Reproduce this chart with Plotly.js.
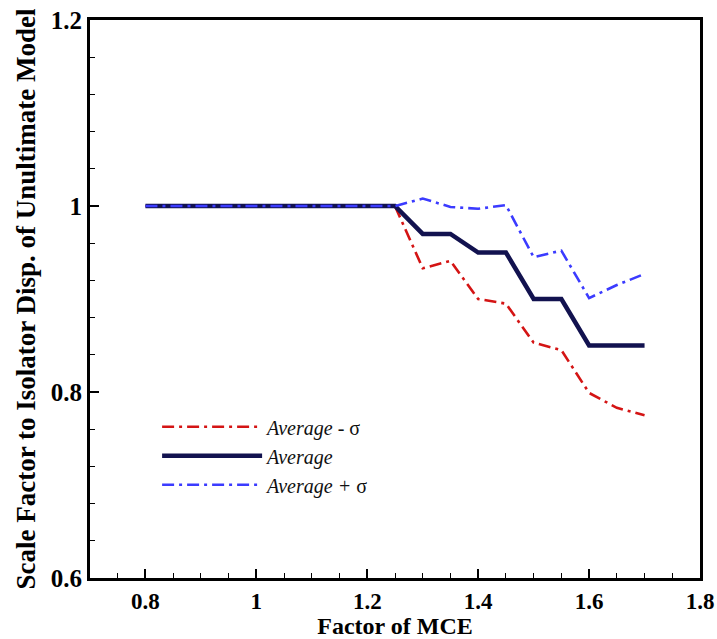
<!DOCTYPE html>
<html>
<head>
<meta charset="utf-8">
<script src="https://cdn.plot.ly/plotly-3.0.1.min.js"></script>
<style>html,body{margin:0;padding:0;background:#fff;}</style>
</head>
<body>
<div id="chart"></div>
<script>
const factorMCE = [0.8, 0.85, 0.9, 0.95, 1.0, 1.05, 1.1, 1.15, 1.2, 1.25, 1.3, 1.35, 1.4, 1.45, 1.5, 1.55, 1.6, 1.65, 1.7];
const avgMinusSigma = [1, 1, 1, 1, 1, 1, 1, 1, 1, 1, 0.933, 0.941, 0.900, 0.895, 0.853, 0.845, 0.799, 0.783, 0.775];
const average = [1, 1, 1, 1, 1, 1, 1, 1, 1, 1, 0.97, 0.97, 0.95, 0.95, 0.90, 0.90, 0.85, 0.85, 0.85];
const avgPlusSigma = [1, 1, 1, 1, 1, 1, 1, 1, 1, 1, 1.008, 0.999, 0.997, 1.001, 0.945, 0.952, 0.901, 0.915, 0.927];
const seriesNames = ['<i>Average</i> - σ', '<i>Average</i>', '<i>Average + </i>σ'];
const xTicks = [0.8, 1, 1.2, 1.4, 1.6, 1.8];
const yTicks = [0.6, 0.8, 1, 1.2];

const serif = 'Liberation Serif';
const traces = [
  {x: factorMCE, y: avgMinusSigma, name: seriesNames[0], mode: 'lines',
   line: {color: '#d41414', width: 2.6, dash: '12px,5px,3px,5px'}},
  {x: factorMCE, y: average, name: seriesNames[1], mode: 'lines',
   line: {color: '#12124f', width: 4.5}},
  {x: factorMCE, y: avgPlusSigma, name: seriesNames[2], mode: 'lines',
   line: {color: '#3b3bff', width: 2.6, dash: '12px,5px,3px,5px'}}
];

const layout = {
  width: 717, height: 639,
  margin: {l: 90, r: 17, t: 20, b: 61},
  paper_bgcolor: '#fff', plot_bgcolor: '#fff',
  font: {family: serif},
  showlegend: true,
  legend: {x: 0.11, y: 0.306, xanchor: 'left', yanchor: 'top', bgcolor: 'rgba(0,0,0,0)',
           itemwidth: 100, tracegroupgap: 0,
           font: {family: serif, size: 20, color: '#111'}},
  xaxis: {
    range: [0.7, 1.8], tickvals: xTicks, ticktext: xTicks.map(String),
    showgrid: false, zeroline: false, showline: true, linecolor: '#000', linewidth: 3, mirror: true,
    ticks: 'inside', ticklen: 9, tickwidth: 2, tickcolor: '#000',
    minor: {dtick: 0.05, ticks: 'inside', ticklen: 5, tickwidth: 1, tickcolor: '#000', showgrid: false},
    tickfont: {family: serif, size: 23, color: '#000', weight: 'bold'},
    ticklabelstandoff: 0,
    title: {text: '<b>Factor of MCE</b>', font: {family: serif, size: 24, color: '#000'}, standoff: 0}
  },
  yaxis: {
    range: [0.6, 1.2], tickvals: yTicks, ticktext: ['0.6', '0.8', '1', '1.2'],
    showgrid: false, zeroline: false, showline: true, linecolor: '#000', linewidth: 3, mirror: true,
    ticks: 'inside', ticklen: 9, tickwidth: 2, tickcolor: '#000',
    minor: {dtick: 0.04, ticks: 'inside', ticklen: 5, tickwidth: 1, tickcolor: '#000', showgrid: false},
    tickfont: {family: serif, size: 25, color: '#000', weight: 'bold'},
    title: {text: '<b>Scale Factor to Isolator Disp. of Unultimate Model</b>', font: {family: serif, size: 27, color: '#000'}, standoff: 8}
  }
};
Plotly.newPlot('chart', traces, layout, {displayModeBar: false, staticPlot: true});
</script>
</body>
</html>
